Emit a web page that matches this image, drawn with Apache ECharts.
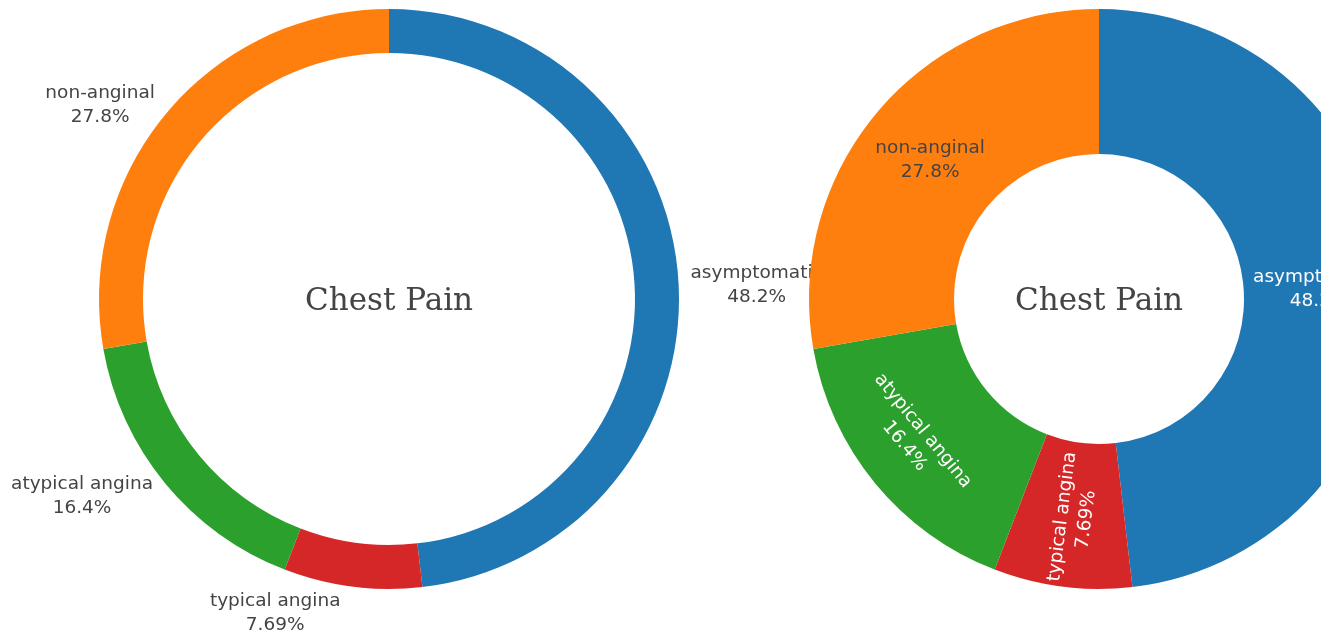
<!DOCTYPE html>
<html>
<head>
<meta charset="utf-8">
<script src="https://cdn.jsdelivr.net/npm/echarts@6/dist/echarts.min.js"></script>
<style>
html,body{margin:0;padding:0;background:#fff;overflow:hidden;}
#c{width:1321px;height:637px;}
</style>
</head>
<body>
<div id="c"></div>
<script>
// ---- data ----
const categories = ['asymptomatic', 'typical angina', 'atypical angina', 'non-anginal'];
const counts = [144, 23, 49, 83];
const sliceColors = ['#1f77b4', '#d62728', '#2ca02c', '#ff7f0e'];
const centerTitle = 'Chest Pain';

// ---- layout constants ----
const R = 290;
const LEFT = {cx: 389, cy: 299, r0: 246};
const RIGHT = {cx: 1099, cy: 299, r0: 145};
const FONT = 'DejaVu Sans, Verdana, sans-serif';
const FS = 18.5, LH = 24;
const BASELINE_SHIFT = 3;

const total = counts.reduce((a, b) => a + b, 0);
function pctText(v) { return Number((v / total * 100).toPrecision(3)) + '%'; }
function midAngle(i) {
  let cum = 0;
  for (let j = 0; j < i; j++) cum += counts[j];
  return (cum + counts[i] / 2) / total * Math.PI * 2;
}

const baseData = categories.map((name, i) => ({
  name, value: counts[i], itemStyle: {color: sliceColors[i]}
}));

// inside-label orientation / colour for the right donut
const insideRotate = {'typical angina': 'radial', 'atypical angina': 'tangential'};
const insideDark = {'non-anginal': true};

const rightData = baseData.map(d => ({
  name: d.name, value: d.value, itemStyle: d.itemStyle,
  label: {
    rotate: insideRotate[d.name] || 0,
    color: insideDark[d.name] ? '#444' : '#fff'
  }
}));

const chart = echarts.init(document.getElementById('c'), null, {renderer: 'canvas'});
chart.setOption({
  animation: false,
  backgroundColor: '#fff',
  graphic: [
    {type: 'text', x: LEFT.cx, y: LEFT.cy + BASELINE_SHIFT, z: 10,
     style: {text: centerTitle, font: '31px "DejaVu Serif", serif', fill: '#444', align: 'center', verticalAlign: 'middle'}},
    {type: 'text', x: RIGHT.cx, y: RIGHT.cy + BASELINE_SHIFT, z: 10,
     style: {text: centerTitle, font: '31px "DejaVu Serif", serif', fill: '#444', align: 'center', verticalAlign: 'middle'}}
  ],
  series: [
    {
      type: 'pie', z: 1,
      center: [LEFT.cx, LEFT.cy], radius: [LEFT.r0, R],
      startAngle: 90, clockwise: true,
      avoidLabelOverlap: false,
      emphasis: {disabled: true},
      data: baseData,
      label: {
        show: true, position: 'outside',
        formatter: p => p.name + '\n' + pctText(p.value),
        fontFamily: FONT, fontSize: FS, lineHeight: LH, color: '#444', align: 'center'
      },
      labelLine: {show: false},
      labelLayout: function (p) {
        const a = midAngle(p.dataIndex);
        const x = R * Math.sin(a), y = -R * Math.cos(a);
        let dx = p.labelRect.width / 2, dy = p.labelRect.height / 2;
        if (x < 0) dx = -dx;
        if (y < 0) dy = -dy;
        const ox = dx + Math.abs(dy) * (dx > 0 ? 1 : -1) / 2;
        const oy = dy / (1 + x * x / (y * y));
        return {x: LEFT.cx + x + ox, y: LEFT.cy + y + oy + BASELINE_SHIFT, align: 'center', verticalAlign: 'middle'};
      }
    },
    {
      type: 'pie', z: 2,
      center: [RIGHT.cx, RIGHT.cy], radius: [RIGHT.r0, R],
      startAngle: 90, clockwise: true,
      avoidLabelOverlap: false,
      emphasis: {disabled: true},
      data: rightData,
      label: {
        show: true, position: 'inside',
        formatter: p => p.name + '\n' + pctText(p.value),
        fontFamily: FONT, fontSize: FS, lineHeight: LH, align: 'center'
      },
      labelLine: {show: false},
      labelLayout: function (p) {
        const name = categories[p.dataIndex];
        let dx = 0, dy = BASELINE_SHIFT;
        if (insideRotate[name] === 'tangential') {
          const a = midAngle(p.dataIndex);
          dx += 13 * Math.sin(a);
          dy += -13 * Math.cos(a);
        }
        return {dx: dx, dy: dy};
      }
    }
  ]
});
</script>
</body>
</html>
